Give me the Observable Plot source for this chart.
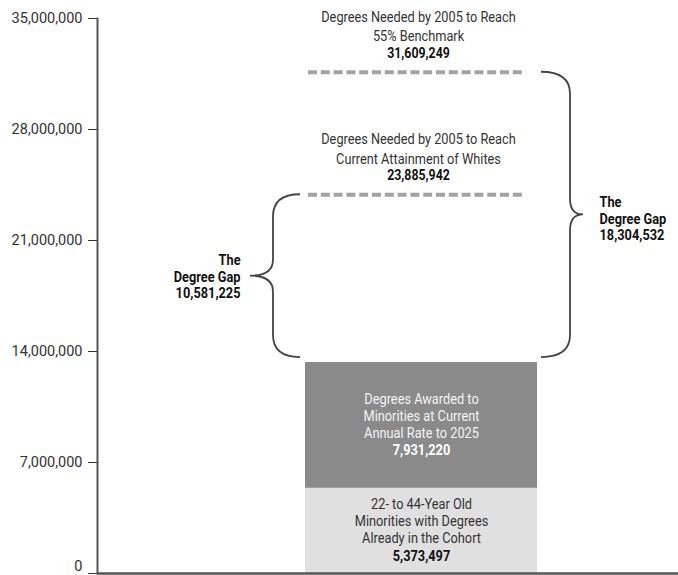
<!DOCTYPE html>
<html>
<head>
<meta charset="utf-8">
<script src="https://cdn.jsdelivr.net/npm/d3@7"></script>
<script src="https://cdn.jsdelivr.net/npm/@observablehq/plot@0.6"></script>
<style>
  html, body { margin: 0; padding: 0; background: #fff; }
  #chart svg { display: block; }
</style>
</head>
<body>
<div id="chart"></div>
<script>
// ---- data ----
const cohort = ["Minorities"];
const segmentKinds = ["existing", "awarded"];
const segmentValues = [5373497, 7931220];
const segmentLabels = [
  "22- to 44-Year Old\nMinorities with Degrees\nAlready in the Cohort",
  "Degrees Awarded to\nMinorities at Current\nAnnual Rate to 2025"
];
const targetValues = [23885942, 31609249];
const targetLabels = [
  "Degrees Needed by 2005 to Reach\nCurrent Attainment of Whites",
  "Degrees Needed by 2005 to Reach\n55% Benchmark"
];
const gapValues = [10581225, 18304532];
const gapSides = ["left", "right"];
const yTicks = [0, 7000000, 14000000, 21000000, 28000000, 35000000];

const fmt = d3.format(",");
const narrow = "Roboto, 'Liberation Sans', sans-serif";

// ---- derived tables ----
let acc = 0;
const segments = segmentValues.map((v, i) => {
  const y1 = acc; acc += v;
  return {cat: cohort[0], kind: segmentKinds[i], value: v, y1, y2: acc, mid: (y1 + acc) / 2, label: segmentLabels[i], num: fmt(v)};
});
const base = acc;
const targets = targetValues.map((v, i) => ({cat: cohort[0], value: v, label: targetLabels[i], num: fmt(v)}));
const gaps = gapValues.map((g, i) => ({
  cat: cohort[0], side: gapSides[i], from: base, to: base + g, mid: base + g / 2,
  label: "The\nDegree Gap\n" + fmt(g)
}));

// brace annotation drawn with the plot's own scales
function braces(index, scales) {
  const x = scales.x, y = scales.y;
  const bw = typeof x.bandwidth === "function" ? x.bandwidth() : x.bandwidth;
  const xl = x(cohort[0]), xr = xl + bw;
  const g = d3.create("svg:g").attr("fill", "none").attr("stroke", "#444").attr("stroke-width", 1.8);
  for (const d of gaps) {
    const yTop = y(d.to), yBot = y(d.from) - 5, ym = (yTop + yBot) / 2;
    const x0 = d.side === "left" ? xl - 5 : xr + 4;
    const xv = d.side === "left" ? xl - 32 : xr + 33;
    const xt = d.side === "left" ? xl - 55 : xr + 46;
    const r = 22, rm = 16;
    const p = `M${x0},${yTop} Q${xv},${yTop} ${xv},${yTop + r} L${xv},${ym - rm} Q${xv},${ym} ${xt},${ym} Q${xv},${ym} ${xv},${ym + rm} L${xv},${yBot - r} Q${xv},${yBot} ${x0},${yBot}`;
    g.append("path").attr("d", p);
  }
  return g.node();
}

const plot = Plot.plot({
  width: 678,
  height: 575,
  marginLeft: 97,
  marginTop: 18,
  marginBottom: 2,
  marginRight: 0,
  style: {fontFamily: "Roboto, sans-serif", fontSize: "14.5px", color: "#333", background: "#fff"},
  x: {domain: cohort, paddingInner: 0, paddingOuter: 0.752, align: 0.596, axis: null},
  y: {domain: [0, 35000000], label: null},
  color: {domain: segmentKinds, range: ["#e0e0e0", "#8a8a8a"]},
  marks: [
    Plot.axisY(yTicks, {tickFormat: d => d === 0 ? "" : fmt(d), tickSize: 9, tickPadding: 6, label: null}),
    Plot.text([yTicks[0]], {y: d => d, text: d => fmt(d), frameAnchor: "left", dx: -15, dy: -7, textAnchor: "end", fill: "#333"}),
    Plot.barY(segments, {x: "cat", y1: "y1", y2: "y2", fill: "kind"}),
    Plot.frame({anchor: "left", stroke: "#555", strokeWidth: 2}),
    Plot.ruleY([0], {stroke: "#555", strokeWidth: 2.5}),
    Plot.tickY(targets, {x: "cat", y: "value", stroke: "#a3a3a3", strokeWidth: 4, strokeDasharray: "9,3.8", insetLeft: 3, insetRight: 14}),
    // target labels
    Plot.text(targets, {x: "cat", y: "value", text: "label", dx: -3, dy: -47, lineAnchor: "middle", lineHeight: 1.3,
      fontFamily: narrow, fontSize: 15, fill: "#333", squeeze: 0.85}),
    Plot.text(targets, {x: "cat", y: "value", text: "num", dx: -3, dy: -19, fontFamily: narrow, fontWeight: "bold", fontSize: 14, fill: "#111"}),
    // segment labels
    Plot.text(segments, {x: "cat", y: "mid", text: "label", dy: -10, lineAnchor: "middle", lineHeight: 1.16,
      fontFamily: narrow, fontSize: 14.5,
      fill: d => d.kind === "awarded" ? "#f4f4f4" : "#333"}),
    Plot.text(segments, {x: "cat", y: "mid", text: "num", dy: 25, fontFamily: narrow, fontWeight: "bold", fontSize: 14.5,
      fill: d => d.kind === "awarded" ? "#fff" : "#111"}),
    // braces
    braces,
    // gap labels
    Plot.text(gaps.filter(d => d.side === "left"), {x: "cat", y: "mid", text: "label", dx: -181, dy: -2, textAnchor: "end",
      lineAnchor: "middle", lineHeight: 1.13, fontFamily: narrow, fontWeight: "bold", fontSize: 14.5, fill: "#111"}),
    Plot.text(gaps.filter(d => d.side === "right"), {x: "cat", y: "mid", text: "label", dx: 178, dy: 1, textAnchor: "start",
      lineAnchor: "middle", lineHeight: 1.13, fontFamily: narrow, fontWeight: "bold", fontSize: 14.5, fill: "#111"})
  ]
});
document.getElementById("chart").appendChild(plot);

// condense the annotation texts horizontally (narrow-face look)
plot.querySelectorAll('g[aria-label="text"][font-family] text').forEach(t => {
  const size = parseFloat(t.parentNode.getAttribute("font-size")) || 15;
  const squeeze = size >= 15 ? 0.85 : 0.88;
  const spans = t.querySelectorAll("tspan");
  const els = spans.length ? Array.from(spans) : [t];
  els.forEach(e => {
    const L = e.getComputedTextLength();
    e.setAttribute("textLength", (L * squeeze).toFixed(1));
    e.setAttribute("lengthAdjust", "spacingAndGlyphs");
  });
});
</script>
</body>
</html>
